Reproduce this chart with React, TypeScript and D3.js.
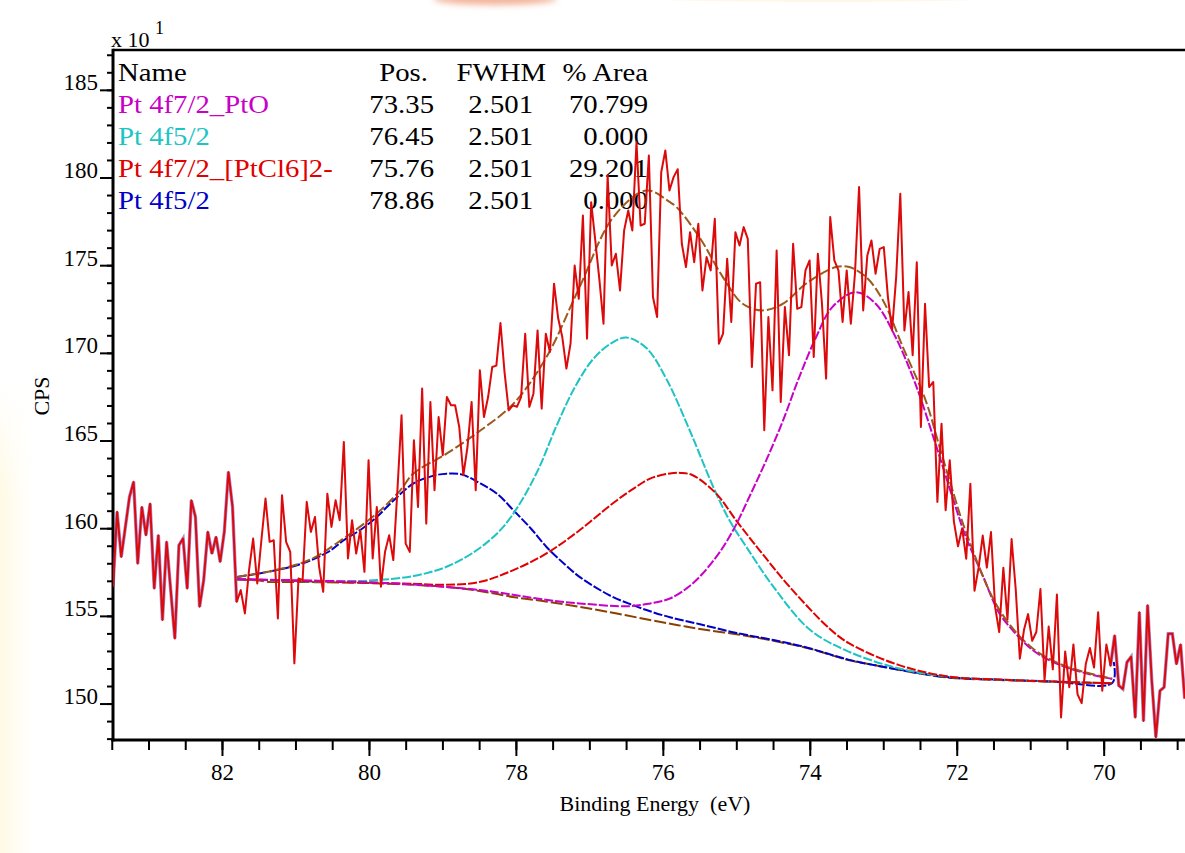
import * as d3 from 'd3'

// raw spectrum: binding energy runs from rawStart downwards in rawStep steps
const rawStart = 83.49
const rawStep = 0.0561
const rawCps = [
  156.69, 160.96, 158.39, 160.1, 161.81, 162.67, 158.01, 161.24, 159.63, 161.43,
  156.59, 159.63, 154.79, 159.25, 156.5, 153.74, 159.06, 159.44, 156.59, 161.62,
  160.67, 155.55, 157.07, 159.82, 158.58, 159.53, 158.11, 159.82, 163.24, 161.24,
  155.83, 156.5, 155.17, 157.64, 159.44, 156.88, 159.34, 161.72, 159.25, 159.34,
  154.88, 161.91, 159.25, 158.68, 152.32, 157.16, 157.07, 161.53, 159.82, 160.67,
  157.83, 156.4, 162.0, 160.1, 161.62, 160.48, 164.95, 158.3, 160.48, 158.58,
  159.91, 157.54, 163.9, 158.3, 161.24, 156.69, 158.68, 159.63, 158.21, 162.19,
  166.47, 159.15,
  158.68, 165.04, 161.24, 167.99, 160.29, 167.23, 162.19, 166.37, 164.19, 167.51,
  167.04, 167.04, 165.8, 163.05, 164.66, 167.23, 162.19, 169.03, 166.37, 167.51,
  169.22, 169.3, 171.73, 168.9, 166.75, 167.04, 166.95, 167.51, 171.12, 166.95,
  167.7, 171.31, 166.85, 171.12, 170.08, 173.97, 172.0, 170.93, 169.13, 170.55,
  175.01, 173.11, 177.86, 170.84, 178.62, 176.44, 174.2, 171.69, 180.14, 175.01,
  175.68, 173.59, 177.01, 178.15, 177.01, 182.04, 177.29, 177.39, 181.28, 173.21,
  172.07, 180.33, 181.57, 179.29, 180.05,
  180.5, 176.25, 174.92, 176.91, 175.2, 177.39, 173.59, 175.49, 174.73, 177.67,
  170.55, 171.12, 175.39, 171.79, 176.91, 176.15, 177.2, 176.53, 169.22, 173.97,
  174.06, 165.61, 172.07, 167.89, 175.87, 167.23, 172.64, 169.89, 176.25, 172.54,
  172.64, 174.73, 175.3, 169.79, 175.68, 172.83, 168.56, 177.77, 175.3, 174.73,
  171.79, 174.73, 171.69, 174.54, 179.48, 172.45, 175.58, 176.44, 174.54, 175.96,
  176.06, 173.21, 171.31, 174.35, 179.1, 171.31, 173.5, 169.89, 175.2, 165.8,
  172.83, 168.08, 168.37, 161.53, 165.99, 161.05, 163.9,
  160.42, 159.0, 160.02, 158.29, 162.56, 156.46, 157.78, 159.61, 157.78, 159.81,
  155.54, 154.11, 157.78, 154.83, 159.41, 156.56, 152.59, 154.22, 155.13, 153.61,
  154.11, 156.56, 151.37, 154.42, 151.98, 156.25, 149.23, 153.0, 150.96, 153.4,
  150.55, 150.05, 152.28, 153.2, 152.08, 155.24, 150.76, 153.4, 152.18, 153.91,
  151.06, 150.86, 152.39, 152.69, 149.23, 155.24, 149.03, 155.64, 151.37, 148.11,
  150.76, 150.96, 154.01, 154.01, 152.28, 153.4, 150.31,
]

// fitted curves, [binding energy, CPS x10]
const shirleyBg: [number, number][] = [
  [81.8, 157.1], [81.5, 157.05], [81.4, 156.98], [80.9, 156.96], [80.4, 156.93],
  [79.85, 156.88], [79.4, 156.8], [78.95, 156.68], [78.5, 156.45], [78.05, 156.11],
  [77.6, 155.85], [77.14, 155.54], [76.65, 155.18], [76.18, 154.79], [75.8, 154.5],
  [75.41, 154.22], [74.95, 153.95], [74.55, 153.65], [74.0, 153.15], [73.47, 152.5],
  [73.1, 152.2], [72.79, 151.94], [72.45, 151.7], [72.1, 151.5], [71.75, 151.42],
  [71.43, 151.37], [70.7, 151.27], [69.89, 151.18],
]

const envelope: [number, number][] = [
  [81.8, 157.25], [81.26, 157.66], [80.8, 158.25], [80.35, 159.45], [79.9, 160.87],
  [79.58, 162.19], [79.4, 163.15], [78.95, 164.28], [78.49, 165.6], [78.04, 167.13],
  [77.59, 169.79], [77.14, 173.78], [76.68, 177.77], [76.23, 179.29], [75.91, 178.62],
  [75.82, 178.34], [75.51, 176.63], [75.19, 174.35], [74.92, 172.83], [74.65, 172.45],
  [74.37, 172.83], [74.06, 173.97], [73.65, 174.92], [73.47, 174.92], [73.24, 174.35],
  [73.01, 173.02], [72.74, 170.36], [72.43, 167.32], [72.24, 164.66], [72.05, 162.0],
  [71.88, 159.8], [71.43, 155.4], [70.98, 153.2], [70.52, 152.15], [69.89, 151.45],
]

const peakPtO: [number, number][] = [
  [81.8, 157.12], [79.85, 156.92], [78.5, 156.5], [77.6, 155.95], [77.14, 155.74],
  [76.46, 155.58], [76.18, 155.74], [75.91, 156.02], [75.6, 156.88], [75.28, 158.39],
  [75.05, 159.91], [74.83, 161.81], [74.6, 163.9], [74.37, 166.18], [74.15, 168.65],
  [73.92, 170.93], [73.7, 172.64], [73.38, 173.49], [73.11, 172.83], [72.84, 170.93],
  [72.57, 168.27], [72.3, 164.9], [72.05, 161.6], [71.88, 159.5], [71.65, 157.3],
  [71.43, 155.2], [71.2, 154.0], [70.98, 153.1], [70.75, 152.5], [70.52, 152.1],
  [70.2, 151.7], [69.89, 151.43],
]

const peakPtO52: [number, number][] = [
  [81.8, 157.12], [80.9, 157.0], [80.35, 157.0], [79.9, 157.07], [79.4, 157.3],
  [79.0, 157.75], [78.7, 158.35], [78.45, 159.05], [78.2, 160.0], [77.95, 161.45],
  [77.7, 163.4], [77.45, 165.9], [77.2, 168.1], [76.95, 169.7], [76.7, 170.6],
  [76.5, 170.9], [76.23, 170.3], [75.96, 168.55], [75.64, 165.6], [75.32, 162.38],
  [75.1, 160.48], [74.87, 158.96], [74.5, 156.68], [74.0, 154.22], [73.47, 152.98],
  [72.79, 152.03], [72.1, 151.55], [71.43, 151.4], [70.7, 151.28], [69.89, 151.19],
]

const peakCl6: [number, number][] = [
  [81.8, 157.12], [80.4, 156.96], [79.4, 156.86], [78.95, 156.8], [78.49, 156.97],
  [78.04, 157.64], [77.59, 158.59], [77.14, 159.91], [76.69, 161.44], [76.4, 162.3],
  [76.18, 162.86], [75.91, 163.15], [75.76, 163.18], [75.6, 163.05], [75.28, 162.0],
  [75.01, 160.48], [74.69, 158.77], [74.28, 156.68], [73.74, 154.31], [73.47, 153.46],
  [72.79, 152.22], [72.1, 151.56], [71.43, 151.4], [70.7, 151.28], [69.89, 151.19],
]

const peakCl652: [number, number][] = [
  [81.8, 157.25], [81.5, 157.45], [81.26, 157.64], [81.0, 157.9], [80.8, 158.2],
  [80.55, 158.7], [80.35, 159.34], [80.1, 160.0], [79.9, 160.67], [79.65, 161.7],
  [79.4, 162.58], [79.15, 163.0], [78.95, 163.14], [78.75, 163.1], [78.49, 162.58],
  [78.25, 161.95], [78.04, 161.05], [77.8, 160.0], [77.59, 158.96], [77.35, 158.0],
  [77.14, 157.25], [76.9, 156.6], [76.69, 156.11], [76.45, 155.7], [76.23, 155.36],
  [75.91, 154.95], [75.5, 154.55], [75.0, 154.05], [74.5, 153.65], [74.0, 153.17],
  [73.47, 152.52], [72.79, 151.96], [72.1, 151.52], [71.43, 151.39], [70.7, 151.29],
  [69.89, 151.2], [69.87, 152.4],
]

const legendNames = ['Pt 4f7/2_PtO', 'Pt 4f5/2', 'Pt 4f7/2_[PtCl6]2-', 'Pt 4f5/2']
const legendPos = ['73.35', '76.45', '75.76', '78.86']
const legendFwhm = ['2.501', '2.501', '2.501', '2.501']
const legendArea = ['70.799', '0.000', '29.201', '0.000']
const legendColors = ['#c800c8', '#1ec4c4', '#e00000', '#0000c8']

const xMajor = [82, 80, 78, 76, 74, 72, 70]
const xMinor = d3.range(69, 83.6, 0.5)
const yMajor = [150, 155, 160, 165, 170, 175, 180, 185]
const yMinor = d3.range(148, 188, 1)

const W = 1185
const H = 853
const font = '"Liberation Serif", "Times New Roman", serif'

export default function App() {
  const x = d3.scaleLinear().domain([83.49, 68.9]).range([113, 1185])
  const y = d3.scaleLinear().domain([147.95, 187.3]).range([740, 50])

  const raw: [number, number][] = rawCps.map((v, i) => [rawStart - i * rawStep, v])
  const rawLeft = raw.filter(d => d[0] >= 81.76)
  const rawRight = raw.filter(d => d[0] <= 69.92)

  const straight = d3.line<[number, number]>().x(d => x(d[0])).y(d => y(d[1]))
  const smooth = d3
    .line<[number, number]>()
    .x(d => x(d[0]))
    .y(d => y(d[1]))
    .curve(d3.curveCatmullRom.alpha(0.5))

  const curves = [
    { pts: shirleyBg, color: '#8a4000', dash: '12 3' },
    { pts: peakCl652, color: legendColors[3], dash: '9 2' },
    { pts: peakPtO52, color: legendColors[1], dash: '9 2' },
    { pts: peakCl6, color: legendColors[2], dash: '9 2' },
    { pts: peakPtO, color: legendColors[0], dash: '9 2' },
    { pts: envelope, color: '#9c5a1c', dash: '10 3' },
  ]

  const rowY = (i: number) => 81 + i * 32
  const stretched = (tx: number, ty: number) => `translate(${tx},${ty}) scale(1.15,1)`

  return (
    <svg
      width={W}
      height={H}
      style={{ position: 'absolute', left: 0, top: 0, background: '#fff' }}
      fontFamily={font}
    >
      <defs>
        <linearGradient id="creamEdge" x1="0" x2="1" y1="0" y2="0">
          <stop offset="0%" stopColor="#fff8dc" stopOpacity={0.8} />
          <stop offset="100%" stopColor="#fffbe8" stopOpacity={0} />
        </linearGradient>
        <mask id="creamMask">
          <rect x={0} y={380} width={40} height={H - 380} fill="url(#creamFadeInv)" />
        </mask>
        <linearGradient id="creamFadeInv" x1="0" x2="0" y1="0" y2="1">
          <stop offset="0%" stopColor="#000" />
          <stop offset="25%" stopColor="#fff" />
          <stop offset="100%" stopColor="#fff" />
        </linearGradient>
        <filter id="soft" x="-50%" y="-200%" width="200%" height="500%">
          <feGaussianBlur stdDeviation="3" />
        </filter>
        <clipPath id="plotClip">
          <rect x={113} y={50} width={W - 113} height={690} />
        </clipPath>
      </defs>

      {/* faint scan artefacts round the edges */}
      <rect x={0} y={380} width={34} height={H - 380} fill="url(#creamEdge)" mask="url(#creamMask)" />
      <ellipse cx={495} cy={-1} rx={62} ry={6} fill="#ee9a78" opacity={0.75} filter="url(#soft)" />
      <ellipse cx={820} cy={-2} rx={180} ry={4} fill="#fff4dc" opacity={0.6} />

      {/* multiplier */}
      <text x={111} y={47} fontSize={22}>x 10</text>
      <text x={155} y={34} fontSize={18}>1</text>

      {/* legend table */}
      <g fontSize={25} fill="#000">
        <text transform={stretched(118, rowY(0))}>Name</text>
        <text transform={stretched(428, rowY(0))} textAnchor="end">Pos.</text>
        <text transform={stretched(546, rowY(0))} textAnchor="end">FWHM</text>
        <text transform={stretched(648, rowY(0))} textAnchor="end">% Area</text>
        {legendNames.map((n, i) => (
          <g key={i}>
            <text transform={stretched(118, rowY(i + 1))} fill={legendColors[i]}>{n}</text>
            <text transform={stretched(434, rowY(i + 1))} textAnchor="end">{legendPos[i]}</text>
            <text transform={stretched(533, rowY(i + 1))} textAnchor="end">{legendFwhm[i]}</text>
            <text transform={stretched(648, rowY(i + 1))} textAnchor="end">{legendArea[i]}</text>
          </g>
        ))}
      </g>

      {/* y axis */}
      <g stroke="#000" strokeWidth={2}>
        {yMinor.map(v => (
          <line key={'ym' + v} x1={107} x2={113} y1={y(v)} y2={y(v)} />
        ))}
        {yMajor.map(v => (
          <line key={'yM' + v} x1={100} x2={113} y1={y(v)} y2={y(v)} />
        ))}
      </g>
      {yMajor.map(v => (
        <text key={'yl' + v} x={98} y={y(v)} textAnchor="end" fontSize={23}>
          {v}
        </text>
      ))}
      <text transform="translate(49,396) rotate(-90)" textAnchor="middle" fontSize={22}>
        CPS
      </text>

      {/* x axis */}
      <g stroke="#000" strokeWidth={2}>
        {xMinor.map(v => (
          <line key={'xm' + v} x1={x(v)} x2={x(v)} y1={740} y2={750} />
        ))}
        {xMajor.map(v => (
          <line key={'xM' + v} x1={x(v)} x2={x(v)} y1={740} y2={756} />
        ))}
      </g>
      {xMajor.map(v => (
        <text key={'xl' + v} x={x(v)} y={780} textAnchor="middle" fontSize={23}>
          {v}
        </text>
      ))}
      <text x={655} y={811} textAnchor="middle" fontSize={22} xmlSpace="preserve">
        Binding Energy  (eV)
      </text>

      {/* frame */}
      <line x1={113} x2={W} y1={50} y2={50} stroke="#000" strokeWidth={2.5} />
      <line x1={113} x2={113} y1={48.8} y2={741.5} stroke="#000" strokeWidth={3} />
      <line x1={111.5} x2={W} y1={740} y2={740} stroke="#000" strokeWidth={3} />

      <g clipPath="url(#plotClip)">
        {curves.map((c, i) => (
          <path
            key={i}
            d={smooth(c.pts) ?? ''}
            fill="none"
            stroke={c.color}
            strokeWidth={2}
            strokeDasharray={c.dash}
          />
        ))}

        {/* outside the fit window the components coincide with the data */}
        <path d={straight(rawLeft) ?? ''} fill="none" stroke="#6a2aa8" strokeWidth={3.4} opacity={0.55} />
        <path d={straight(rawRight) ?? ''} fill="none" stroke="#6a2aa8" strokeWidth={3.4} opacity={0.55} />

        <path d={straight(raw) ?? ''} fill="none" stroke="#dc0a0a" strokeWidth={2} strokeLinejoin="round" />
      </g>
    </svg>
  )
}
